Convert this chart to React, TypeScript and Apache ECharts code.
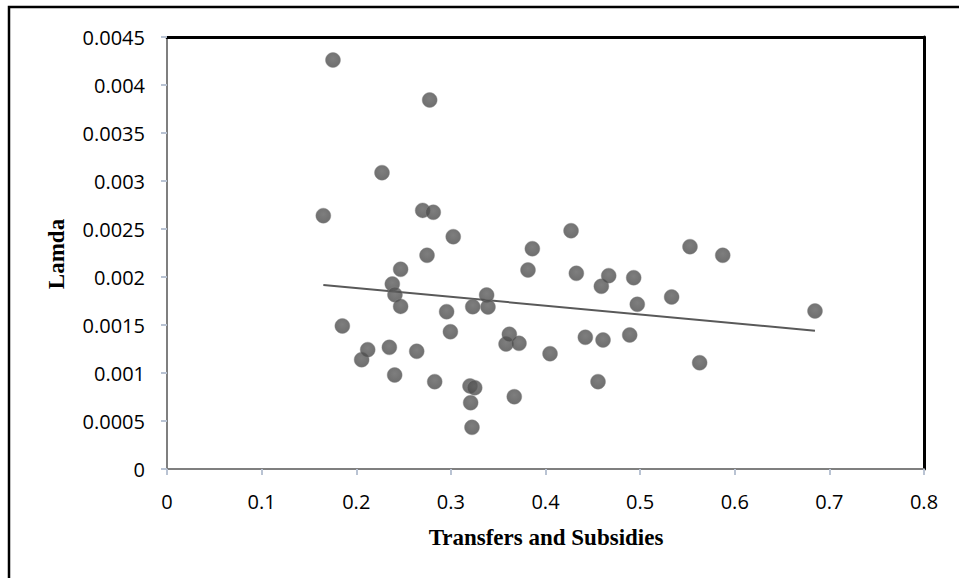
import React, { useEffect, useRef } from "react";
import * as echarts from "echarts";

const transfers = [
  0.1652, 0.1754, 0.1853, 0.2057, 0.2121, 0.2272, 0.235, 0.2381, 0.2406, 0.2409,
  0.2469, 0.2469, 0.2639, 0.2702, 0.2748, 0.2776, 0.2814, 0.2829, 0.2955, 0.2995,
  0.3025, 0.3202, 0.3209, 0.3223, 0.3231, 0.3252, 0.3378, 0.3392, 0.3583, 0.3618,
  0.367, 0.372, 0.3815, 0.3861, 0.4048, 0.427, 0.4326, 0.4421, 0.4555, 0.459,
  0.4608, 0.4668, 0.489, 0.4932, 0.497, 0.5333, 0.5527, 0.5629, 0.5873, 0.6848,
];
const lamda = [
  0.002639, 0.00426, 0.00149, 0.001139, 0.001243, 0.003087, 0.001267, 0.001927, 0.000979, 0.001816,
  0.00208, 0.001694, 0.001226, 0.002694, 0.002226, 0.003844, 0.002674, 0.00091, 0.001639, 0.00143,
  0.00242, 0.000865, 0.000691, 0.000434, 0.001691, 0.000847, 0.001812, 0.001688, 0.001302, 0.001403,
  0.000753, 0.001309, 0.002073, 0.002295, 0.001201, 0.002482, 0.002038, 0.001372, 0.00091, 0.001903,
  0.001344, 0.002014, 0.001396, 0.001993, 0.001715, 0.001792, 0.002316, 0.001107, 0.002226, 0.001646,
];
const trendX = [0.1652, 0.6848];
const trendY = [0.001917, 0.001441];

const xTitle = "Transfers and Subsidies";
const yTitle = "Lamda";

const fmt = (v: number) => String(+Number(v).toFixed(6));

export default function App() {
  const ref = useRef<HTMLDivElement>(null);
  useEffect(() => {
    if (!ref.current) return;
    const chart = echarts.init(ref.current, null, { renderer: "svg" });
    const labelStyle = { color: "#000", fontFamily: "Open Sans", fontSize: 20 };
    chart.setOption({
      animation: false,
      backgroundColor: "#fff",
      grid: { left: 167, top: 37, right: 35, bottom: 109, containLabel: false },
      xAxis: [
        {
          type: "value",
          min: 0,
          max: 0.8,
          interval: 0.1,
          splitLine: { show: false },
          axisLine: { show: true, onZero: false, lineStyle: { color: "#7f7f7f", width: 2 } },
          axisTick: { show: true, length: 6, lineStyle: { color: "#b9c3d3", width: 2 } },
          axisLabel: { ...labelStyle, margin: 22, formatter: fmt },
        },
        {
          type: "value",
          position: "top",
          min: 0,
          max: 0.8,
          axisLine: { show: true, onZero: false, lineStyle: { color: "#000", width: 3 } },
          axisTick: { show: false },
          axisLabel: { show: false },
          splitLine: { show: false },
        },
      ],
      yAxis: [
        {
          type: "value",
          min: 0,
          max: 0.0045,
          interval: 0.0005,
          splitLine: { show: false },
          axisLine: { show: true, onZero: false, lineStyle: { color: "#7f7f7f", width: 2 } },
          axisTick: { show: true, length: 6, lineStyle: { color: "#b9c3d3", width: 2 } },
          axisLabel: { ...labelStyle, margin: 22, formatter: fmt },
        },
        {
          type: "value",
          position: "right",
          min: 0,
          max: 0.0045,
          axisLine: { show: true, onZero: false, lineStyle: { color: "#000", width: 3 } },
          axisTick: { show: false },
          axisLabel: { show: false },
          splitLine: { show: false },
        },
      ],
      graphic: [
        {
          type: "rect",
          silent: true,
          shape: { x: 9, y: 7, width: 1000, height: 1000 },
          style: { fill: "none", stroke: "#000", lineWidth: 2.5 },
          z: 100,
        },
        {
          type: "text",
          x: 546,
          y: 537,
          style: {
            text: xTitle,
            font: "bold 23px 'Liberation Serif', 'Times New Roman', serif",
            fill: "#000",
            align: "center",
            verticalAlign: "middle",
          },
        },
        {
          type: "text",
          x: 56,
          y: 254,
          rotation: Math.PI / 2,
          style: {
            text: yTitle,
            font: "bold 23px 'Liberation Serif', 'Times New Roman', serif",
            fill: "#000",
            align: "center",
            verticalAlign: "middle",
          },
        },
      ],
      series: [
        {
          type: "line",
          data: trendX.map((x, i) => [x, trendY[i]]),
          showSymbol: false,
          symbol: "none",
          lineStyle: { color: "#595959", width: 2 },
          z: 1,
        },
        {
          type: "scatter",
          data: transfers.map((x, i) => [x, lamda[i]]),
          symbol: "circle",
          symbolSize: 15,
          itemStyle: {
            color: {
              type: "radial",
              x: 0.5,
              y: 0.4,
              r: 0.6,
              colorStops: [
                { offset: 0, color: "#5e5e5e" },
                { offset: 1, color: "#4a4a4a" },
              ],
            },
            borderColor: "#8a8a8a",
            borderWidth: 0.5,
          },
          z: 2,
        },
      ],
    });
    return () => chart.dispose();
  }, []);
  return (
    <div
      ref={ref}
      style={{ position: "fixed", left: 0, top: 0, width: 959, height: 578 }}
    />
  );
}
